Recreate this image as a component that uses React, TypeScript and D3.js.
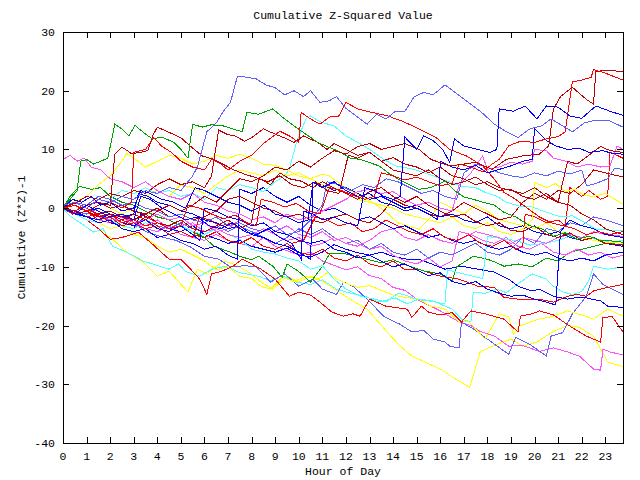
import React from "react";
import * as d3 from "d3";

type Pt = [number, number];

const hourTicks = d3.range(0, 24);
const valueTicks = [-40, -30, -20, -10, 0, 10, 20, 30];

const lightBlue1: Pt[] = [[0,0.5],[0.5,1],[1,0],[1.5,1.5],[2,1],[2.5,2],[3,1.5],[3.5,3],[4,2.5],[4.5,3.5],[5,3],[5.5,5.5],[5.7,7],[5.9,10],[6.1,13],[6.5,14.5],[6.8,16.5],[7.1,18],[7.4,22.5],[7.8,22.3],[8.2,22],[8.6,21],[9,20.5],[9.4,19.3],[9.8,20],[10.2,19],[10.5,20],[10.9,18],[11.3,18.3],[11.6,19],[12,17],[12.5,15.5],[12.9,14.3],[13.3,16],[13.7,15.2],[14.1,16.5],[14.5,16.5],[14.9,19],[15.3,19.7],[15.7,19.3],[16.2,21],[16.7,19.5],[17.2,18],[17.7,16.5],[18.3,14.3],[18.8,13],[19.3,12],[19.8,13.5],[20.3,14],[20.7,15.2],[21.2,14],[21.6,13],[22.1,14.5],[22.6,15],[23.1,15],[23.75,13.8]];
const green1: Pt[] = [[0,0],[0.3,1.5],[0.6,3],[0.75,8],[1,8.3],[1.3,7.5],[1.6,8],[1.9,8.5],[2.2,14.3],[2.5,13.5],[2.8,12.3],[3.05,14.1],[3.5,12.6],[3.8,11.8],[4.2,12.1],[4.7,11.2],[5,10],[5.3,8.5],[5.5,14.3],[5.9,13.8],[6.3,14.2],[6.8,14],[7.2,13.5],[7.6,13],[7.8,16.3],[8.3,16],[8.9,16.9],[9.3,15.5],[9.8,14],[10.3,12.6],[10.8,11.2],[11.2,10.5],[11.7,9.7],[12.2,8.5],[12.6,8.3],[13.4,7.2],[13.8,6],[14.2,5],[14.7,4],[15.1,3.2],[15.6,3.5],[16.2,4.6],[16.6,3],[17,1.9],[17.4,1.5],[17.8,1],[18.3,0.5],[18.7,-0.7],[19.2,-1.5],[19.8,-3],[20.3,-3.5],[20.8,-4.8],[21.3,-4.2],[21.8,-5.3],[22.3,-4.8],[22.8,-5.5],[23.3,-5.6],[23.75,-5.8]];
const green2: Pt[] = [[0,0],[0.3,2],[0.7,3.7],[1.2,3.2],[1.6,3.5],[2,2],[2.5,1],[3,0.5],[3.5,-0.5],[4,-1.5],[4.5,-2],[5,-3],[5.5,-4],[6,-5],[6.4,-6.5],[7.1,-7.5],[7.5,-8.2],[8,-8.8],[8.3,-8.2],[8.9,-9.9],[9.3,-11.8],[9.5,-9.5],[10,-10.8],[10.5,-12.6],[11,-9.9],[11.3,-7.8],[12,-7.8],[12.9,-8.7],[13.5,-9.3],[14,-8.8],[14.7,-9.9],[15.3,-10.7],[16,-11.2],[16.5,-12.4],[16.7,-10],[17.4,-8.2],[18,-8.7],[18.4,-9.3],[18.7,-9.9],[19.3,-9.5],[19.9,-10],[20.5,-8.5],[21,-9],[21.5,-7.5],[22,-7],[22.5,-6.5],[23,-6],[23.75,-6.2]];
const darkRed1: Pt[] = [[0,0],[0.5,-0.5],[1,0.5],[1.5,1],[2,0.5],[2.2,9.2],[2.5,10.4],[2.9,9.3],[3.3,9.5],[3.6,9.8],[3.8,12.3],[4,13.8],[4.5,12.9],[5,12],[5.3,10.9],[5.9,8.9],[6.4,8.3],[7.2,6.6],[7.7,5.8],[8.4,4.9],[8.8,4],[9.2,6],[9.6,5],[10.1,4.6],[10.6,3.5],[11,4.5],[11.5,3.4],[12,2.5],[12.5,1.5],[13,2.8],[13.5,3.5],[14,2],[14.5,1],[15,2],[15.5,0.5],[16,-0.5],[16.5,-1.5],[17,-1],[17.5,-2.3],[18,-3],[18.5,-2.5],[19,-3.8],[19.5,-4],[20,-3],[20.5,-4.5],[21,-5],[21.5,-4.2],[22,-5.5],[22.5,-5],[23,-6],[23.75,-6.3]];
const darkRed2: Pt[] = [[0,0],[0.5,0.8],[1,2],[1.5,1.5],[2,2.5],[2.5,2],[3,3],[3.5,2.5],[4,4],[4.5,5],[5,4],[5.5,4.5],[6,3.5],[6.3,5.5],[6.6,13.3],[7,12.5],[7.3,12.3],[7.7,11.4],[8,12],[8.5,13.5],[9,12.6],[9.5,11.8],[9.8,11.2],[10.2,12.3],[10.8,11.2],[11.2,10],[11.5,11],[12,10],[12.5,9],[13,9.5],[13.5,8],[14,6.5],[14.5,6],[15,5.5],[15.5,6.5],[16,5],[16.5,4],[17,4.5],[17.5,5.3],[18,4],[18.5,3],[19,3.2],[19.5,2],[20,1.5],[20.5,2.5],[21,1],[21.5,0.5],[22,-1],[22.5,-2],[23,-3.5],[23.75,-4.5]];
const darkRed3: Pt[] = [[0,0],[0.5,-1],[1,-0.5],[1.5,-1.5],[2,-1],[2.5,-2],[3,-1],[3.5,-2],[4,-0.5],[4.5,0.5],[5,-0.5],[5.5,0.5],[6,2],[6.5,1],[7,3],[7.5,5],[8,4.5],[8.5,5.5],[9,7],[9.5,6.5],[10,8],[10.5,7],[11,8.5],[11.5,9.8],[12,9.2],[12.5,10.5],[13,11],[13.5,10],[14,10.5],[14.5,11],[15.1,10],[15.6,8.3],[16.4,7.2],[17,7.5],[17.5,7.8],[18.2,6.6],[18.8,8.3],[19.5,8.9],[20.2,9.2],[20.6,10.6],[20.8,16.9],[21.1,19],[21.6,20.6],[22.2,18.5],[22.5,17.7],[22.6,23.3],[23.2,23.5],[23.75,23.2]];
const darkRed4: Pt[] = [[0,0],[0.5,1],[1,0],[1.5,-1],[2,-0.5],[2.5,-1.5],[3,-2],[3.5,-1],[4,-2.5],[4.5,-3],[5,-2],[5.5,-3.5],[6,-4],[6.5,-3],[7,-2],[7.5,-3.5],[8,-2.5],[8.3,5],[8.7,4.5],[9.2,5.5],[9.7,4],[10.2,3.5],[10.7,4.5],[11.2,3],[11.7,2.5],[12.1,9],[12.5,8.5],[13,9.5],[13.5,8],[14,8.6],[14.5,7.5],[15,7],[15.5,6],[16,7],[16.5,5.5],[17,5],[17.5,4],[18,4.5],[18.5,3.5],[19,3],[19.5,2.5],[20,3.5],[20.5,2],[21,1],[21.4,8],[21.8,7.5],[22.3,9],[22.8,10.5],[23.2,9.8],[23.75,9.5]];
const darkRed5: Pt[] = [[0,0],[0.5,-0.5],[1,0.5],[1.5,1],[2,0],[2.5,0.5],[3,-0.5],[3.5,-1],[4,0],[4.5,-1.5],[5,-1],[5.5,-2],[6,-1.5],[6.5,-0.5],[7,1.5],[7.5,2],[8,1],[8.5,0],[9,-0.5],[9.5,-1.5],[10,-1],[10.5,-2],[11,-2.5],[11.5,-1.5],[12,-1],[12.5,-2],[13,-2.5],[13.5,-1],[14,1.5],[14.5,0.5],[15,0],[15.5,-1],[16,-1.5],[16.5,-0.5],[17,1],[17.5,0],[18,-1],[18.5,-2],[19,-1.5],[19.5,1],[20,2.5],[20.5,1.5],[21,3],[21.5,2.5],[22,4],[22.5,6.5],[23,6],[23.75,5.3]];
const red1: Pt[] = [[0,0],[0.4,-1],[0.8,0.5],[1.2,-0.5],[1.6,-1.5],[2,-1],[2.5,-2.5],[3,-2],[3.5,-3],[4,-2.5],[4.5,-3.5],[5,-3],[5.3,0.5],[5.8,0],[6.3,-1],[6.8,-1.8],[7.3,-1.2],[7.8,-2.5],[8.2,-3],[8.4,1.5],[8.9,1],[9.4,0.2],[9.9,0.8],[10.4,-0.5],[10.9,-1],[11.3,3.5],[11.8,3],[12.3,2.2],[12.8,1.5],[13.2,2],[13.5,6],[14,5.5],[14.5,4.8],[15,5.3],[15.5,4.5],[16,3.8],[16.5,4.2],[16.8,7.5],[17.3,7],[17.8,6.2],[18.2,7.5],[18.5,8.3],[18.9,10.6],[19.4,11.4],[20,11.2],[20.5,11.8],[21,12.2],[21.3,13],[21.6,21.5],[22,21.8],[22.4,22.3],[22.5,23.6],[23,23],[23.75,21.8]];
const red2: Pt[] = [[0,0],[0.5,0.5],[1,-0.5],[1.5,0.5],[2,1],[2.5,0],[2.9,1],[3,9.5],[3.5,10],[3.85,12],[4.2,10.5],[4.6,9.5],[5,8],[5.5,7],[6,6.5],[6.3,8.3],[6.7,7.5],[7,6.5],[7.5,8],[8,9],[8.5,11],[9.2,13.1],[9.6,12.3],[10,11.2],[10.1,16.3],[10.5,15.2],[10.9,14.3],[11.3,15.5],[11.7,15.7],[12,18],[12.5,16.9],[13.1,16.3],[13.7,15.8],[14.4,14.8],[15.1,13.5],[15.8,12.1],[16.4,10],[17.1,8.9],[17.8,7.2],[18.3,4.9],[18.7,2.7],[19.2,1.5],[19.7,0],[20.2,-1.5],[20.7,-2.5],[21.2,-3],[21.7,-3.5],[22.2,-4.5],[22.7,-4],[23.2,-4.5],[23.75,-4]];
const red3: Pt[] = [[0,0],[0.5,-1],[1,-0.5],[1.5,-2],[2,-1.5],[2.5,-3],[3,-2.5],[3.5,-3.5],[4,-3],[4.5,-4.5],[5,-4],[5.5,-5],[5.8,-1.5],[6.2,-2],[6.7,-3],[7.2,-2.5],[7.7,-4],[8.2,-4.5],[8.7,-3.5],[9.2,-5],[9.7,-6],[10.2,-5.5],[10.7,-1.5],[11.2,-2],[11.7,-3],[12.2,-2.5],[12.7,-4],[13.2,-3.5],[13.7,-2],[14.2,-3],[14.7,-4],[15.2,-4.5],[15.7,-3.5],[16.2,-5],[16.7,-5.5],[17.2,-4.5],[17.7,-6],[18.2,-6.5],[18.7,-5.5],[19.2,-7],[19.5,-6.5],[19.6,-1],[20,-1.5],[20.5,-2.5],[21,-2],[21.3,-3],[21.5,3.5],[22,2],[22.3,3],[22.8,1.5],[23.1,2],[23.2,9.5],[23.5,9],[23.75,8.5]];
const red4: Pt[] = [[0,0],[0.5,-0.5],[1,-1.5],[1.5,-1],[2,-2.5],[2.5,-2],[3,-3],[3.5,-1.5],[4,-2.5],[4.5,-3.5],[5,-3],[5.5,-4.5],[6,-5],[6.5,-4],[7,-5.5],[7.5,-6],[8,-5],[8.5,-6.5],[9,-7],[9.5,-6],[10,-7.5],[10.5,-8],[11,-7],[11.5,-8.5],[12,-9],[12.5,-8],[13,-9.5],[13.5,-10],[14,-9],[14.5,-10.5],[15.1,-10.4],[15.9,-11.5],[16.8,-12.1],[17.6,-13.3],[18.3,-13.5],[18.7,-15.2],[19.3,-15.5],[20.2,-15.5],[20.8,-16],[21.4,-15],[21.8,-14.7],[22.2,-15],[22.5,-14.1],[23.1,-13.5],[23.75,-13]];
const red5: Pt[] = [[0,0],[0.5,-1],[1,-2],[1.5,-3.5],[2,-5.3],[2.5,-5],[3.2,-4.1],[3.7,-5.8],[4.5,-8.7],[5,-8.7],[5.3,-9.9],[5.8,-12.1],[6.1,-14.7],[6.3,-11.2],[6.7,-10.8],[7.2,-9.9],[7.6,-8.7],[8,-9.5],[8.4,-10.4],[9,-12.1],[9.6,-15],[10,-14.3],[10.5,-14.8],[10.9,-16],[11.4,-17.7],[11.9,-18.4],[12.3,-18],[12.6,-18.4],[13,-15.5],[13.7,-16.7],[14.6,-17.2],[14.8,-18.6],[15.2,-16.7],[15.5,-17.7],[16,-18.2],[16.5,-17.8],[16.9,-19.4],[17.3,-17.5],[17.9,-18],[18.7,-18.9],[19.3,-21.1],[19.4,-18.4],[19.9,-18],[20.2,-17.5],[20.8,-18.2],[21.5,-20.1],[22.2,-21.8],[22.8,-22.8],[22.9,-18.6],[23.3,-18.5],[23.75,-21.1]];
const yellow1: Pt[] = [[0,0],[0.5,1],[1,2],[1.5,4],[2,5.5],[2.5,8],[2.7,9.3],[3,8.5],[3.5,7],[4,8],[4.5,9],[5,8.5],[5.5,7.5],[6,8],[6.5,9],[7,8.5],[7.5,9.2],[8,8.5],[8.5,7.5],[9,7.3],[9.5,6.5],[10,5.5],[10.5,5],[11,4],[11.5,3.5],[12,2.5],[12.5,1.5],[13,1],[13.5,0.5],[14,0],[14.5,-1],[15,-1.5],[15.5,-2],[16,-2.5],[16.5,-1.5],[17,-3],[17.5,-3.5],[18,-2.5],[18.5,-4],[19,-4.5],[19.5,-3.5],[19.9,-2],[20,4.4],[20.5,3.5],[20.9,4.2],[21.3,2.8],[21.7,3.2],[22.1,2.2],[22.5,2],[23,2.5],[23.75,0.7]];
const yellow2: Pt[] = [[0,0],[0.5,-0.5],[1,0.5],[1.5,1],[2,0],[2.5,-1],[3,0],[3.5,2],[4,3],[4.5,2],[5,4],[5.5,3.5],[6,2.5],[6.5,4],[7,5.5],[7.5,6.5],[8,6],[8.5,5.5],[9,6.5],[9.5,5.5],[10,6],[10.5,5],[11,5.8],[11.3,5.5],[11.8,4],[12.3,2.7],[12.9,1.5],[13.3,0.5],[13.8,-1],[14.2,-2.5],[14.6,-3],[15.1,-3.6],[15.6,-1.5],[16,1],[16.5,0],[17,-1],[17.5,0.5],[18,-0.5],[18.5,-2],[19,-2.5],[19.5,-3],[20,-3.5],[20.5,-2.5],[21,-4],[21.5,-4.5],[22,-5],[22.5,-5.5],[23,-5.8],[23.75,-6]];
const yellow3: Pt[] = [[0,0],[0.5,-1],[1,-1.5],[1.5,-2.5],[2,-3.5],[2.5,-3],[3,-4.5],[3.5,-5],[4,-6.5],[4.5,-7.5],[5,-7],[5.5,-8],[6,-9],[6.5,-10.5],[7,-10],[7.5,-11.6],[8,-12],[8.4,-13.3],[8.8,-13.8],[9.3,-11.8],[9.8,-12.5],[10.3,-11.6],[10.8,-12.2],[11.2,-11],[11.6,-12],[12,-12.8],[12.5,-13.5],[13,-13.2],[13.5,-14],[14,-14.8],[14.5,-15.2],[15.1,-15.5],[15.6,-16.7],[16.2,-17.2],[16.8,-19.4],[17.2,-19.3],[17.9,-22.3],[18.5,-18],[18.9,-18.5],[19.1,-21.5],[19.4,-20],[20.1,-19],[20.8,-18.4],[21.4,-17.5],[22,-18.2],[22.5,-18.9],[23.1,-17.2],[23.75,-18.4]];
const yellow4: Pt[] = [[0,0],[0.5,-1],[1,-2],[1.5,-3.5],[2.1,-5.3],[2.7,-7.5],[3.4,-9.2],[4,-11.6],[4.5,-10.7],[5.3,-14.3],[5.7,-10.4],[6.1,-11.2],[6.8,-9],[7.2,-9.5],[7.8,-10.7],[8.4,-12.6],[8.9,-13.8],[9.5,-11.6],[10,-12.6],[10.5,-11.6],[11,-12.4],[11.7,-14.3],[12.3,-15.8],[12.9,-17.2],[13.4,-19.5],[13.9,-21.8],[14.3,-23.5],[14.8,-25.2],[15.4,-26.3],[16,-27.4],[16.6,-29],[17.25,-30.5],[17.7,-24.4],[18.4,-23.2],[19,-22.3],[19.5,-23.5],[20.1,-22.8],[20.8,-21],[21.4,-20],[21.9,-20.3],[22.5,-21.8],[23.1,-26.2],[23.75,-27]];
const cyan1: Pt[] = [[0,0],[0.5,1],[1,0.5],[1.5,2],[2,1.5],[2.5,3],[3,2.5],[3.5,3.5],[4,2.5],[4.5,3],[5,2],[5.5,2.5],[6,1.5],[6.5,3.5],[7,3],[7.5,4],[8,3.5],[8.5,2.8],[9,4.5],[9.4,5.5],[9.6,6.6],[9.9,11.2],[10.3,15.2],[10.5,15.7],[10.9,14.7],[11.5,14],[12,12.3],[12.5,11.2],[13,10],[13.6,8.3],[14.1,7.2],[14.9,6.6],[15.7,5.5],[16.3,4.6],[16.9,3.7],[17.5,3.5],[17.9,2.7],[18.4,2],[18.8,1],[19.4,0.3],[19.9,0.2],[20.5,-0.7],[21.1,-1.5],[21.6,-1.3],[22.1,-2.4],[22.6,-3.6],[23.75,-3.9]];
const cyan2: Pt[] = [[0,0],[0.5,-1],[1,-2],[1.5,-2.5],[2,-2],[2.5,-3],[3,-3.5],[3.5,-2.5],[4,-3.5],[4.5,-4],[5,-3],[5.5,-4],[6,-4.5],[6.5,-3.5],[7,-4.5],[7.5,-5.3],[8,-7],[8.5,-7.5],[9,-7.8],[9.5,-8.5],[10,-9],[10.5,-10.4],[11,-9.8],[11.5,-12.1],[12,-13.8],[12.6,-15],[13.2,-15.5],[13.7,-16],[14.2,-14.5],[14.5,-14.8],[15,-15.5],[15.5,-15.8],[16.2,-16.3],[16.3,-10.5],[16.8,-11],[17.3,-11.5],[17.8,-12],[18,-4.8],[18.6,-5.2],[19.2,-5.5],[19.8,-6.3],[20.4,-6],[21,-5.5],[21.5,-4.8],[22,-5],[22.7,-5.3],[23.2,-5.8],[23.75,-5.5]];
const cyan3: Pt[] = [[0,0],[0.3,-1.4],[0.7,-2.4],[1.3,-4.1],[1.7,-3.5],[2.1,-6.5],[2.7,-7.5],[3.4,-9],[4.1,-9.9],[4.5,-10.4],[4.9,-9.5],[5.2,-10.8],[5.8,-11.6],[6.3,-10.4],[6.9,-9.9],[7.5,-11],[8.3,-11.6],[8.8,-12.4],[9.3,-11.5],[9.9,-12.6],[10.5,-13],[11,-12.2],[11.6,-13.8],[12.2,-14.5],[12.8,-15],[13.4,-16],[14.1,-15.3],[14.6,-16.3],[15.1,-15.5],[15.7,-15.8],[16.5,-17.2],[16.9,-18.9],[17.3,-19.4],[17.4,-14.3],[17.9,-14.5],[18.4,-13.8],[18.8,-14.4],[19.4,-12.6],[19.9,-11.2],[20.5,-12.1],[20.8,-13.3],[21.2,-14.3],[21.6,-14.7],[22,-14.2],[22.3,-12.4],[22.5,-9.9],[23.1,-10.4],[23.75,-10]];
const blue1: Pt[] = [[0,0],[0.5,-1],[1,0.5],[1.5,-0.5],[2,-1.5],[2.5,-1],[3,-2],[3.3,2],[3.7,1.5],[4.2,0],[4.7,-1],[5.2,-2],[5.7,-1.5],[6.2,-3],[6.7,-3.5],[7.2,-2.5],[7.7,-4],[8.2,-4.5],[8.7,-3.5],[9.2,-5],[9.7,-6],[10.1,-8.7],[10.2,-0.5],[10.6,-1],[11,-2],[11.5,-1.5],[12,-2.5],[12.5,-3],[12.8,3.5],[13.2,3],[13.6,2],[14,1.5],[14.3,2],[14.5,12.1],[15,10],[15.3,12.3],[15.7,11.5],[16.1,10],[16.4,7.8],[16.6,11.8],[17,10.6],[17.6,10],[18.1,9.5],[18.4,10],[18.5,16.9],[19.1,16.5],[19.6,17.4],[20.1,15.2],[20.5,17.4],[21,17.2],[21.5,15.7],[22,15.3],[22.6,17.4],[23.2,16.5],[23.75,15.8]];
const blue2: Pt[] = [[0,0],[0.4,1.5],[0.8,1],[1.2,2],[1.6,0.5],[2,1],[2.5,-0.5],[3,0],[3.3,3],[3.7,2.5],[4.2,1.5],[4.7,1],[5.2,0],[5.6,3.5],[6,3],[6.5,2],[7,1],[7.5,0.5],[8,-0.5],[8.5,0.5],[9,-1],[9.5,-1.5],[10,-2.5],[10.4,-2],[10.6,4.4],[11,3.5],[11.5,4.5],[12,3],[12.5,2],[13,2.5],[13.5,1],[14,0.5],[14.5,-0.5],[15,0],[15.5,-1],[15.9,-2],[16,8],[16.5,7],[17,6.5],[17.5,7.3],[18,6],[18.5,6.6],[19,7.2],[19.5,8],[19.9,8.3],[20,13.5],[20.5,11.5],[20.9,10.6],[21.4,10],[21.9,10.2],[22.3,9.5],[22.9,9.8],[23.3,9.3],[23.75,9.2]];
const blue3: Pt[] = [[0,0],[0.5,-0.5],[1,-1.5],[1.5,-2],[2,-1],[2.5,-2.5],[3,-3],[3.5,-2],[4,-3.5],[4.5,-4],[5,-3],[5.5,-4.5],[5.8,-5.5],[6,0],[6.5,-0.5],[7,-1.5],[7.5,-2],[8,-3],[8.5,-2.5],[9,-4],[9.5,-4.5],[10,-5.5],[10.5,-6],[11,-5.5],[11.5,-7],[12,-7.5],[12.5,-8.5],[13,-8],[13.5,-9],[14,-10],[14.5,-9.5],[15,-10.5],[15.5,-11.5],[16,-11],[16.5,-12.5],[17,-13],[17.5,-12.5],[18,-13.8],[18.5,-14.5],[19,-15],[19.5,-14.8],[20,-15.5],[20.5,-16],[20.9,-16.5],[21.1,-4],[21.5,-2],[22,-3],[22.5,-3.5],[23,-4.5],[23.75,-5]];
const blue4: Pt[] = [[0,0],[0.5,-0.8],[1,-1.5],[1.5,-1],[2,-2.5],[2.5,-3],[3,-3.5],[3.3,-1],[4,-2.5],[4.5,-3.5],[5,-4],[5.5,-3],[6,-4.5],[6.5,-5.2],[7,-6],[7.5,-5.5],[8,-6.5],[8.5,-7],[9,-7.5],[9.5,-6.8],[10,-8],[10.5,-8.3],[11,-7.5],[11.5,-6.2],[12,-7],[12.5,-7.6],[13,-8],[13.5,-7.5],[14,-8.2],[14.6,-8.7],[15.1,-8.7],[15.5,-9.3],[16.2,-10.4],[16.9,-9.9],[17.6,-10.4],[18.3,-10.9],[18.9,-12.1],[19.3,-13.3],[19.9,-14.1],[20.2,-13.8],[20.8,-15],[21.4,-15.5],[21.8,-15.2],[22.2,-15.3],[22.8,-15.8],[23.1,-16.7],[23.75,-16.9]];
const blue5: Pt[] = [[0,0],[0.5,-1],[1,-1.5],[1.5,-2.5],[2,-2],[2.5,-3.5],[3,-4],[3.5,-3.5],[4,-5],[4.5,-4.5],[5,-5.5],[5.5,-6],[6,-7],[6.5,-6.5],[7,-8],[7.4,-8.7],[7.5,3.2],[8,2.5],[8.5,3.5],[9,2],[9.5,1],[10,2],[10.5,0.5],[11,-0.5],[11.5,0],[12,-1],[12.5,-2],[13,-1.5],[13.5,-2.5],[14,-3.5],[14.5,-3],[15,-4],[15.5,-5],[16,-4.5],[16.5,-5.5],[17,-6],[17.5,-5.5],[18,-6.5],[18.5,-7],[19,-6.5],[19.5,-7.5],[20,-8],[20.5,-7.5],[21,-8.5],[21.5,-9],[22,-8.5],[22.5,-9],[23,-8],[23.75,-7.5]];
const blue6: Pt[] = [[0,0],[0.5,0.5],[1,-0.5],[1.5,0],[2,-1],[2.5,-1.5],[3,-1],[3.2,2.5],[3.6,2],[4,1],[4.5,0.5],[5,-0.5],[5.5,-1],[6,-2],[6.5,-2.5],[7,-3.5],[7.5,-3],[8,-4.5],[8.5,-5],[9,-6],[9.5,-6.5],[10,-7.5],[10.5,-8.7],[10.6,4.4],[11,4],[11.5,3],[12,3.5],[12.5,2.5],[13,1.5],[13.5,2],[14,1],[14.5,0],[15,0.5],[15.5,-0.5],[16,-1.5],[16.5,-1],[17,-2],[17.5,-2.5],[18,-1.5],[18.5,-3],[19,-3.5],[19.5,-3],[20,-4],[20.5,-4.5],[21,-4],[21.5,-5],[22,-5.5],[22.5,-5],[23,-6],[23.75,-6.5]];
const magenta1: Pt[] = [[0,8.3],[0.3,9],[0.6,8],[0.9,8.5],[1.2,7],[1.6,6.5],[2,5],[2.5,4.5],[3,3.5],[3.5,4.5],[4,3],[4.5,2],[5,1.5],[5.5,2.5],[6,1],[6.5,0.5],[7,-0.5],[7.5,-1],[8,-2],[8.5,-1.5],[9,-2.5],[9.5,-1],[10,-2],[10.5,-1.5],[11,-0.5],[11.5,0.5],[12,1.5],[12.4,2.7],[13,3.2],[13.5,2.5],[14,2.8],[14.5,1.5],[15,0.5],[15.5,1],[16,0],[16.5,-0.5],[16.8,4],[17.3,6],[17.8,8.9],[18,6.6],[18.5,7],[19,7.8],[19.5,7.5],[19.9,8],[20,10],[20.5,9.8],[20.8,8.5],[21.3,8],[21.8,7],[22.3,7.5],[22.8,7],[23.2,7.2],[23.5,10.6],[23.75,10]];
const magenta2: Pt[] = [[0,0],[0.5,-1],[1,-0.5],[1.5,-1.5],[2,-2],[2.5,-1],[3,-2.5],[3.5,-3],[4,-2],[4.5,-3.5],[5,-3],[5.5,-2.5],[6,-4],[6.5,-3.5],[7,-4.5],[7.5,-5],[8,-4.5],[8.5,-3.5],[9,-4.5],[9.5,-5.5],[10,-5],[10.5,-6.5],[11,-6],[11.5,-5],[12,-6],[12.5,-6.5],[13,-5.5],[13.5,-4],[14,-3.5],[14.5,-5],[15,-5.5],[15.5,-4.5],[16,-5.5],[16.5,-6],[17,-5],[17.5,-4],[18,-4.5],[18.5,-5],[19,-6],[19.5,-5],[20,-5.5],[20.5,-6],[21,-5],[21.5,-4.5],[22,-5],[22.5,-4],[23,-4.5],[23.75,-4.8]];
const magenta3: Pt[] = [[0,0],[1,-1.5],[2,-2.5],[2.5,-1.5],[3,-3],[4,-4],[4.5,-3],[5,-4.5],[6,-5.5],[6.5,-4.5],[7,-5.5],[8,-6.5],[8.5,-5],[9,-6.5],[10,-8],[10.5,-7.5],[11,-9],[12,-10.5],[12.5,-10],[13,-11.5],[13.5,-12],[14,-13.5],[14.5,-14],[15,-15.5],[15.5,-16.5],[16,-17.5],[16.8,-19.4],[17.3,-20],[17.7,-21],[18.3,-21.8],[18.9,-23.5],[19.5,-23.4],[20.2,-24.4],[20.8,-23.8],[21.4,-24.5],[21.9,-25.2],[22.5,-27.4],[22.8,-27.6],[22.9,-24],[23.2,-24.5],[23.75,-25]];
const magenta4: Pt[] = [[0,0],[0.5,-1],[1,-0.5],[1.5,-2],[2,-1.5],[2.5,-2.5],[3,-3],[3.5,-2],[4,-1],[4.5,-2],[5,-1.5],[5.5,-3],[6,-2.5],[6.5,-4],[7,-3.5],[7.5,-2],[8,-3],[8.5,-2.5],[9,-4],[9.5,-3],[10,-4.5],[10.5,-5],[11,-4],[11.5,-5.5],[12,-5],[12.5,-6],[13,-7],[13.5,-6.5],[14,-8],[14.5,-9],[15,-9.5],[15.5,-8.5],[16,-10],[16.5,-9],[16.8,-4],[17.3,-4.5],[17.8,-5.5],[18.3,-6],[18.8,-5],[19.3,-6.5],[19.8,-7],[20.3,-6],[20.8,-7.5],[21.3,-8],[21.8,-7],[22.3,-8],[22.8,-7.5],[23.3,-8.5],[23.75,-8]];
const lightBlue2: Pt[] = [[0,0],[0.5,1],[1,0.5],[1.5,2],[2,1.5],[2.5,0.5],[3,1],[3.5,0],[4,-0.5],[4.5,-1.5],[5,-1],[5.5,-2],[6,-2.5],[6.5,-1.5],[7,-3],[7.5,-2.5],[8,-3.5],[8.5,-4],[9,-3],[9.5,-4.5],[10,-4],[10.5,-2],[11,0.5],[11.2,4.5],[11.7,4],[12.2,3],[12.7,4],[13.2,3.5],[13.7,5],[14.2,4.5],[14.7,3.5],[15.2,2.5],[15.7,3],[16.2,2],[16.7,1.5],[17,6],[17.5,7.5],[18,7],[18.5,6],[19,5.5],[19.5,5.2],[20,6],[20.5,5.5],[21,6.3],[21.5,5.8],[22,6.5],[22.2,3.8],[22.6,4.2],[23.1,5],[23.4,6.8],[23.75,6.6]];
const lightBlue3: Pt[] = [[0,0],[0.5,-0.5],[1,-1],[1.5,0],[2,-1],[2.5,-1.5],[3,-2.5],[3.5,-2],[4,-3],[4.5,-3.5],[5,-2.5],[5.5,-3.5],[6,-4],[6.5,-3],[7,-4],[7.5,-3],[8,-4],[8.5,-5],[9,-6],[9.5,-5],[10,-3.5],[10.5,-4.5],[11,-3.5],[11.5,-5],[12,-6],[12.5,-5.5],[13,-7],[13.5,-6],[14,-7.5],[14.5,-8],[15,-7],[15.5,-8.5],[16,-7.5],[16.5,-8],[17,-7],[17.5,-6],[18,-7.5],[18.5,-8],[19,-7],[19.5,-5],[20,-6],[20.5,-3.5],[21,-4],[21.5,-2.5],[22,-3],[22.5,-1.5],[23,-2],[23.75,-3]];
const lightBlue4: Pt[] = [[0,0],[0.5,-0.5],[1,-1.5],[1.5,-1],[2,-2],[2.5,-3],[3,-2.5],[3.5,-4],[4.1,-4.8],[4.8,-5.5],[5.4,-6.6],[6,-8.2],[6.6,-8.7],[7.1,-10],[7.7,-9.8],[8.2,-10],[8.8,-12.6],[9.4,-11.2],[10,-13.3],[10.6,-12.1],[11,-13.8],[11.6,-14.7],[11.9,-12.6],[12.3,-13.3],[12.9,-15.5],[13.6,-18.4],[14.3,-19.8],[14.8,-21.1],[15.3,-20.8],[15.7,-22.3],[16.2,-22.8],[16.4,-23.5],[16.8,-23.8],[16.9,-19.4],[17.5,-20.8],[18,-22.3],[18.9,-24.9],[19.2,-22],[19.8,-23.2],[20.5,-25.2],[20.7,-21.8],[21.2,-21.2],[21.6,-18],[22.2,-15],[22.5,-11.2],[22.9,-13],[23.75,-14.7]];

const RED = "#ff0000";
const DARKRED = "#c00000";
const GREEN = "#00a000";
const BLUE = "#0000ff";
const LIGHTBLUE = "#6060ff";
const MAGENTA = "#ff50ff";
const CYAN = "#50ffff";
const YELLOW = "#ffff00";

const seriesList: { data: Pt[]; color: string }[] = [
  { data: yellow4, color: YELLOW },
  { data: magenta3, color: MAGENTA },
  { data: cyan3, color: CYAN },
  { data: lightBlue4, color: LIGHTBLUE },
  { data: yellow3, color: YELLOW },
  { data: red5, color: RED },
  { data: blue4, color: BLUE },
  { data: red4, color: RED },
  { data: green2, color: GREEN },
  { data: magenta4, color: MAGENTA },
  { data: cyan2, color: CYAN },
  { data: lightBlue3, color: LIGHTBLUE },
  { data: yellow2, color: YELLOW },
  { data: magenta2, color: MAGENTA },
  { data: blue5, color: BLUE },
  { data: darkRed5, color: DARKRED },
  { data: red3, color: RED },
  { data: blue6, color: BLUE },
  { data: cyan1, color: CYAN },
  { data: lightBlue2, color: LIGHTBLUE },
  { data: yellow1, color: YELLOW },
  { data: magenta1, color: MAGENTA },
  { data: darkRed4, color: DARKRED },
  { data: blue3, color: BLUE },
  { data: darkRed2, color: DARKRED },
  { data: darkRed1, color: DARKRED },
  { data: green1, color: GREEN },
  { data: red2, color: RED },
  { data: blue2, color: BLUE },
  { data: red1, color: RED },
  { data: darkRed3, color: DARKRED },
  { data: lightBlue1, color: LIGHTBLUE },
  { data: blue1, color: BLUE },
];

const W = 640;
const H = 480;
const M = { left: 63, right: 17, top: 32, bottom: 37 };
const FONT = "'Liberation Mono', 'DejaVu Sans Mono', monospace";

export default function App() {
  const x = d3.scaleLinear().domain([0, 23.75]).range([M.left, W - M.right]);
  const y = d3.scaleLinear().domain([-40, 30]).range([H - M.bottom, M.top]);
  const line = d3
    .line<Pt>()
    .x((d) => x(d[0]))
    .y((d) => y(d[1]));
  const x0 = M.left;
  const x1 = W - M.right;
  const y0 = H - M.bottom;
  const y1 = M.top;
  const tl = 6;
  return (
    <svg width={W} height={H} style={{ display: "block", position: "absolute", left: 0, top: 0, background: "#fff" }}>
      <rect x={0} y={0} width={W} height={H} fill="#fff" />
      <defs>
        <clipPath id="plot">
          <rect x={x0} y={y1} width={x1 - x0} height={y0 - y1} />
        </clipPath>
      </defs>
      <g clipPath="url(#plot)">
        {seriesList.map((s, i) => (
          <path key={i} d={line(s.data) || ""} fill="none" stroke={s.color} strokeWidth={1} shapeRendering="crispEdges" />
        ))}
      </g>
      <g stroke="#000" strokeWidth={1} shapeRendering="crispEdges">
        {hourTicks.map((h) => (
          <g key={h}>
            <line x1={Math.round(x(h)) + 0.5} x2={Math.round(x(h)) + 0.5} y1={y0} y2={y0 - tl} />
            <line x1={Math.round(x(h)) + 0.5} x2={Math.round(x(h)) + 0.5} y1={y1} y2={y1 + tl} />
          </g>
        ))}
        {valueTicks.map((v) => (
          <g key={v}>
            <line x1={x0} x2={x0 + tl} y1={Math.round(y(v)) + 0.5} y2={Math.round(y(v)) + 0.5} />
            <line x1={x1} x2={x1 - tl} y1={Math.round(y(v)) + 0.5} y2={Math.round(y(v)) + 0.5} />
          </g>
        ))}
        <rect x={x0 + 0.5} y={y1 + 0.5} width={x1 - x0} height={y0 - y1} fill="none" />
      </g>
      <g fontFamily={FONT} fontSize={11.5} fill="#000">
        {hourTicks.map((h) => (
          <text key={h} x={x(h)} y={460} textAnchor="middle">{h}</text>
        ))}
        {valueTicks.map((v) => (
          <text key={v} x={55} y={y(v) + 4} textAnchor="end">{v}</text>
        ))}
        <text x={(x0 + x1) / 2} y={19} textAnchor="middle">Cumulative Z-Squared Value</text>
        <text x={(x0 + x1) / 2} y={475} textAnchor="middle">Hour of Day</text>
        <text transform={`translate(25, ${(y0 + y1) / 2}) rotate(-90)`} textAnchor="middle">Cumulative (Z*Z)-1</text>
      </g>
    </svg>
  );
}
